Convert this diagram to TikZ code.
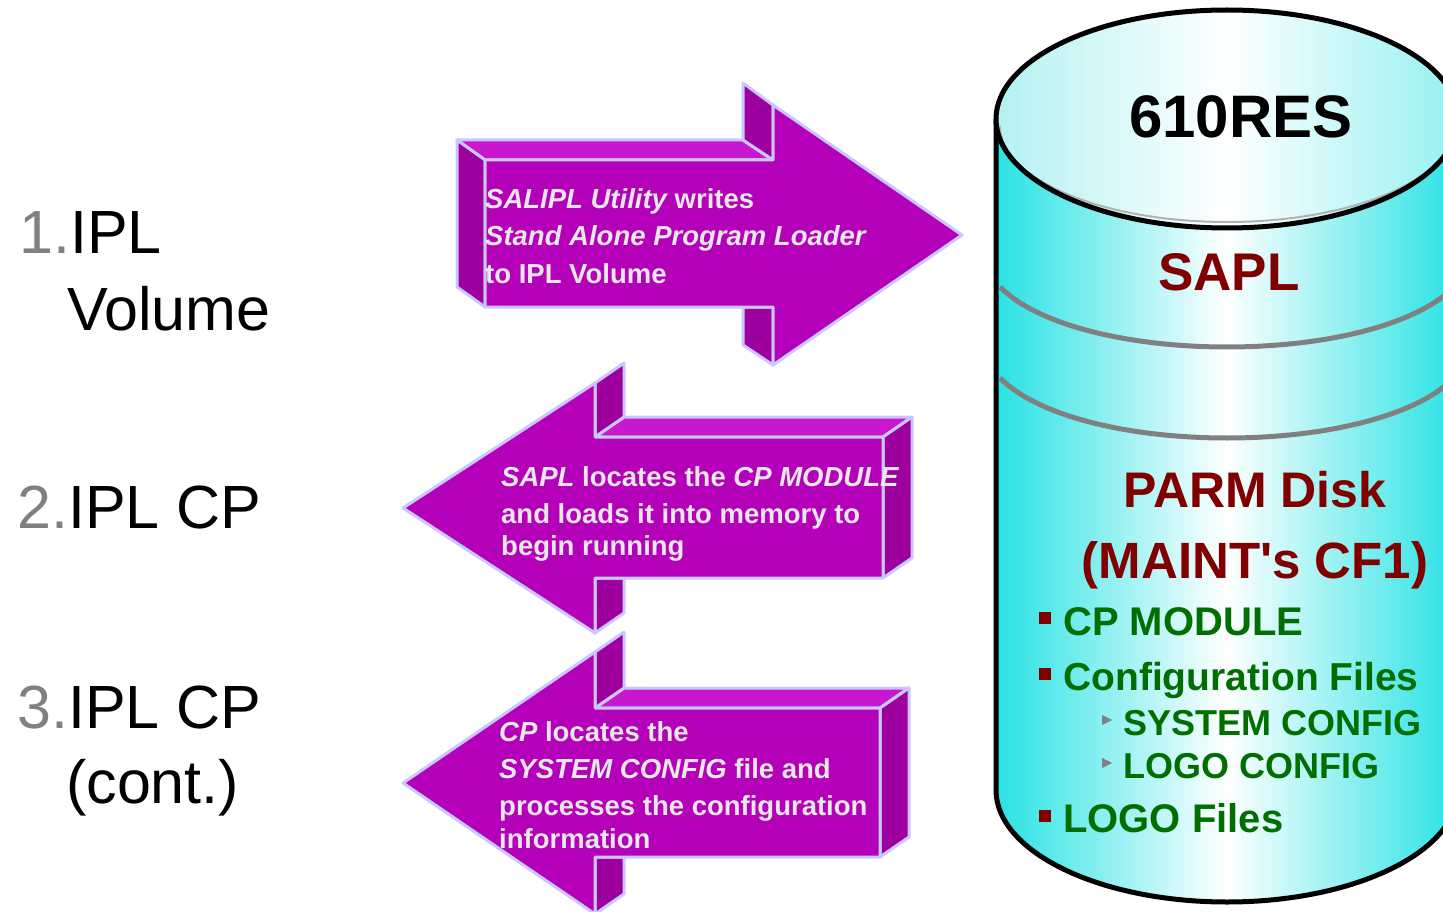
\documentclass[tikz,border=0pt]{standalone}
\usepackage{fontspec}
\setmainfont{Liberation Sans}
\usetikzlibrary{positioning}
\definecolor{magface}{RGB}{180,0,185}
\definecolor{magtop}{RGB}{200,24,205}
\definecolor{magside}{RGB}{158,0,160}
\definecolor{magrim}{RGB}{200,200,255}
\definecolor{arrowtext}{RGB}{232,232,232}
\definecolor{diskcyan}{RGB}{40,226,228}
\definecolor{disktop}{RGB}{140,234,236}
\definecolor{diskred}{RGB}{128,0,0}
\definecolor{diskgreen}{RGB}{0,110,0}
\definecolor{bandgray}{RGB}{128,128,128}
\tikzstyle{face} = [fill=magface, draw=magrim, line width=3pt, line join=round]
\tikzstyle{topface} = [face, fill=magtop]
\tikzstyle{sideface} = [face, fill=magside]
\tikzstyle{arrowtext} = [text=arrowtext, font=\fontsize{27.5}{37}\selectfont\bfseries, align=left, anchor=base west, inner sep=0pt]
\tikzstyle{steplabel} = [font=\fontsize{61}{75}\selectfont, anchor=base west, inner sep=0pt]
\tikzstyle{disktitle} = [text=diskred, font=\fontsize{51}{51}\selectfont\bfseries, anchor=base, inner sep=0pt]
\tikzstyle{diskitem} = [text=diskgreen, font=\fontsize{40}{40}\selectfont\bfseries, anchor=base west, inner sep=0pt]
\tikzstyle{band} = [draw=bandgray, line width=5pt]

\begin{document}
\begin{tikzpicture}[x=1pt, y=1pt]
\useasboundingbox (0,0) rectangle (1443,-912);

% steps on the left
\node[steplabel] (ipl1) at (19,-253) {\textcolor{bandgray}{1.}IPL};
\node[steplabel] (vol) at (67,-330) {Volume};
\node[steplabel] (ipl2) at (17,-528) {\textcolor{bandgray}{2.}IPL CP};
\node[steplabel] (ipl3) at (17,-728) {\textcolor{bandgray}{3.}IPL CP};
\node[steplabel] (cont) at (66,-803) {(cont.)};

% arrow 1: towards the disk
\draw[topface] (457,-140) -- (743,-140) -- (773,-160) -- (485,-160) -- cycle;
\draw[sideface] (457,-140) -- (485,-160) -- (485,-307) -- (457,-287) -- cycle;
\draw[sideface] (743,-83) -- (773,-105) -- (773,-160) -- (743,-140) -- cycle;
\draw[sideface] (743,-307) -- (773,-307) -- (773,-365) -- (743,-345) -- cycle;
\draw[face] (485,-160) -- (773,-160) -- (773,-105) -- (962,-235) -- (773,-365) -- (773,-307) -- (485,-307) -- cycle;

% arrow 2: back from the disk
\draw[topface] (595,-437) -- (624,-417) -- (912,-417) -- (883,-437) -- cycle;
\draw[sideface] (883,-437) -- (912,-417) -- (912,-558) -- (883,-578) -- cycle;
\draw[sideface] (595,-383) -- (624,-363) -- (624,-417) -- (595,-437) -- cycle;
\draw[sideface] (595,-578) -- (624,-578) -- (624,-613) -- (595,-633) -- cycle;
\draw[face] (403,-508) -- (595,-383) -- (595,-437) -- (883,-437) -- (883,-578) -- (595,-578) -- (595,-633) -- cycle;

% arrow 3
\draw[topface] (595,-708) -- (624,-688) -- (909,-688) -- (880,-708) -- cycle;
\draw[sideface] (880,-708) -- (909,-688) -- (909,-837) -- (880,-857) -- cycle;
\draw[sideface] (595,-652) -- (624,-632) -- (624,-688) -- (595,-708) -- cycle;
\draw[sideface] (595,-857) -- (624,-857) -- (624,-894) -- (595,-914) -- cycle;
\draw[face] (403,-783) -- (595,-652) -- (595,-708) -- (880,-708) -- (880,-857) -- (595,-857) -- (595,-914) -- cycle;

% texts on the arrows (base = last line)
\node[arrowtext] (salipl) at (485,-283) {{\itshape SALIPL Utility} writes\\{\itshape Stand Alone Program Loader}\\to IPL Volume};
\node[arrowtext] (sapltext) at (501,-555) {{\itshape SAPL} locates the {\itshape CP MODULE}\\and loads it into memory to\\[-5pt]begin running};
\node[arrowtext] (cptext) at (499,-848) {{\itshape CP} locates the\\{\itshape SYSTEM CONFIG} file and\\processes the configuration\\[-4pt]information};

% the disk
\begin{scope}
\clip (0,0) rectangle (1443,-912);
\shade[left color=diskcyan, right color=diskcyan, middle color=white] (996,-119) -- (996,-790) arc[start angle=180, end angle=360, x radius=231, y radius=112] -- (1458,-119) arc[start angle=0, end angle=-180, x radius=231, y radius=109] -- cycle;
\draw[line width=5pt] (996,-119) -- (996,-790) arc[start angle=180, end angle=360, x radius=231, y radius=112] -- (1458,-119);
\begin{scope}
\clip (1227,-119) ellipse [x radius=231, y radius=109];
\shade[left color=disktop, right color=diskcyan!75, middle color=white, rotate around={-40:(1227,-119)}] (977,-369) rectangle (1477,131);
\end{scope}
\draw[gray!60, line width=2pt] (1000,-126) arc[start angle=180, end angle=360, x radius=227, y radius=96];
\draw[line width=5pt] (1227,-119) ellipse [x radius=231, y radius=109];
\draw[band] (1000,-287) .. controls (1080,-367) and (1374,-367) .. (1454,-287);
\draw[band] (1000,-378) .. controls (1080,-458) and (1374,-458) .. (1454,-378);
\end{scope}

\node[font=\fontsize{60}{60}\selectfont\bfseries, anchor=base, inner sep=0pt] (res) at (1241,-138) {610RES};
\node[disktitle, font=\fontsize{53}{53}\selectfont\bfseries] (sapl) at (1229,-290) {SAPL};
\node[disktitle, font=\fontsize{50}{50}\selectfont\bfseries] (parm) at (1255,-507) {PARM Disk};
\node[disktitle] (maint) at (1255,-578) {(MAINT\textquotesingle s CF1)};

\fill[diskred] (1039,-612) rectangle (1051,-624);
\fill[diskred] (1039,-668) rectangle (1051,-680);
\fill[diskred] (1039,-810) rectangle (1051,-822);
\fill[bandgray] (1102,-715) -- (1112,-720) -- (1102,-725) -- cycle;
\fill[bandgray] (1102,-758) -- (1112,-763) -- (1102,-768) -- cycle;
\node[diskitem] (cpmodule) at (1063,-635) {CP MODULE};
\node[diskitem, font=\fontsize{39}{39}\selectfont\bfseries] (conffiles) at (1063,-690) {Configuration Files};
\node[diskitem, font=\fontsize{36}{36}\selectfont\bfseries] (sysconf) at (1123,-735) {SYSTEM CONFIG};
\node[diskitem, font=\fontsize{36}{36}\selectfont\bfseries] (logoconf) at (1123,-778) {LOGO CONFIG};
\node[diskitem] (logofiles) at (1063,-832) {LOGO Files};
\end{tikzpicture}
\end{document}
